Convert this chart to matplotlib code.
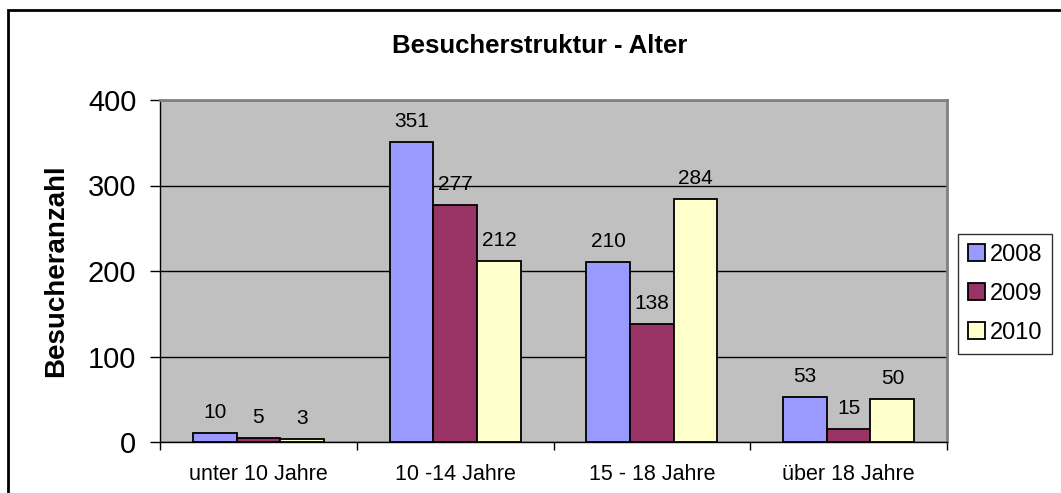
import matplotlib
matplotlib.use("Agg")
import matplotlib.pyplot as plt
import numpy as np
from matplotlib.patches import Rectangle

categories = ["unter 10 Jahre", "10 -14 Jahre", "15 - 18 Jahre", "über 18 Jahre"]
years = ["2008", "2009", "2010"]
v2008 = [10, 351, 210, 53]
v2009 = [5, 277, 138, 15]
v2010 = [3, 212, 284, 50]
series = [v2008, v2009, v2010]
colors = ["#9999FF", "#993366", "#FFFFCC"]
title = "Besucherstruktur - Alter"
ylabel = "Besucheranzahl"
yticks = [0, 100, 200, 300, 400]

plt.rcParams['font.family'] = ['Liberation Sans', 'DejaVu Sans']

fig = plt.figure(figsize=(10.61, 4.93), dpi=100)
W, H = 1061, 493
ax = fig.add_axes([160 / W, 1 - 442 / H, (947 - 160) / W, (442 - 100) / H])
ax.set_facecolor("#C0C0C0")

x = np.arange(len(categories))
w = 1 / 4.5
for i, (vals, c, yr) in enumerate(zip(series, colors, years)):
    pos = x + (i - 1) * w
    ax.bar(pos, vals, width=w, color=c, edgecolor="black", linewidth=1.3,
           label=yr, zorder=3)
    for p, v in zip(pos, vals):
        ax.annotate(str(v), (p, v), xytext=(0, 8), textcoords="offset points",
                    ha="center", va="bottom", fontsize=15)

ax.set_xlim(-0.5, len(categories) - 0.5)
ax.set_ylim(0, 400)
ax.set_yticks(yticks)
ax.set_yticklabels([str(t) for t in yticks], fontsize=21)
ax.yaxis.grid(True, color="black", linewidth=1, zorder=0)
ax.set_axisbelow(True)
ax.tick_params(axis="y", length=7, width=1, direction="out", pad=10)

ax.set_xticks(x)
ax.set_xticklabels(categories, fontsize=15.5)
ax.set_xticks(np.arange(len(categories) + 1) - 0.5, minor=True)
ax.tick_params(axis="x", which="major", length=0, pad=16)
ax.tick_params(axis="x", which="minor", length=6, width=1, direction="out")

for s in ["top", "right"]:
    ax.spines[s].set_color("#808080")
    ax.spines[s].set_linewidth(2)
ax.spines["left"].set_color("black")
ax.spines["left"].set_linewidth(1)
ax.spines["bottom"].set_color("black")
ax.spines["bottom"].set_linewidth(1)

ax.set_ylabel(ylabel, fontsize=20, fontweight="bold")
ax.yaxis.set_label_coords(-0.116, 0.5)

fig.text(540 / W, 1 - 53 / H, title, ha="center", va="baseline",
         fontsize=18.5, fontweight="bold")

leg = fig.legend(loc="upper left", bbox_to_anchor=(958 / W, 1 - 234 / H),
                 frameon=True, fancybox=False, edgecolor="black", fontsize=17,
                 handlelength=0.72, handleheight=0.7, handletextpad=0.2,
                 borderpad=0.42, labelspacing=0.72, borderaxespad=0)
leg.get_frame().set_linewidth(1)

fig.patches.append(Rectangle((8 / W, -0.05), 1.1, 1 - 10 / H + 0.05,
                             transform=fig.transFigure, fill=False,
                             edgecolor="black", linewidth=2))

fig.savefig("out.png", dpi=100)
